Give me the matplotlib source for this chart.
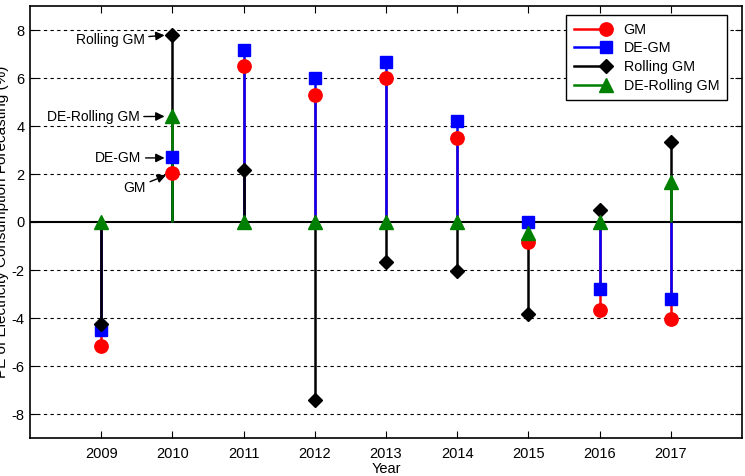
import matplotlib
matplotlib.use("Agg")
import matplotlib.pyplot as plt
from matplotlib.lines import Line2D
from matplotlib.legend_handler import HandlerBase

plt.rcParams['font.family'] = ['Liberation Sans', 'DejaVu Sans']
plt.rcParams['axes.unicode_minus'] = False

years = [2009, 2010, 2011, 2012, 2013, 2014, 2015, 2016, 2017]
gm = [-5.17, 2.05, 6.5, 5.3, 6.0, 3.5, -0.85, -3.65, -4.05]
de_gm = [-4.5, 2.7, 7.15, 6.0, 6.65, 4.2, 0.0, -2.8, -3.2]
rolling_gm = [-4.25, 7.8, 2.15, -7.4, -1.65, -2.05, -3.85, 0.5, 3.35]
de_rolling_gm = [0.0, 4.4, 0.0, 0.0, 0.0, 0.0, -0.45, 0.0, 1.65]

series = [
    ("GM", gm, "#ff0000", "o", 9.6),
    ("DE-GM", de_gm, "#0000ff", "s", 8),
    ("Rolling GM", rolling_gm, "#000000", "D", 6.9),
    ("DE-Rolling GM", de_rolling_gm, "#008000", "^", 9.7),
]


class EndMarkerHandler(HandlerBase):
    def create_artists(self, legend, orig_handle, xdescent, ydescent,
                       width, height, fontsize, trans):
        x0 = -xdescent
        x1 = width - xdescent
        y = height / 2 - ydescent
        line = Line2D([x0, x1], [y, y], color=orig_handle.get_color(),
                      lw=orig_handle.get_linewidth())
        mk = Line2D([x1], [y], ls='none', marker=orig_handle.get_marker(),
                    markersize=orig_handle.get_markersize(),
                    markerfacecolor=orig_handle.get_markerfacecolor(),
                    markeredgecolor=orig_handle.get_markeredgecolor())
        line.set_transform(trans)
        mk.set_transform(trans)
        return [line, mk]


fig = plt.figure(figsize=(7.45, 4.76), dpi=100)
ax = fig.add_axes([30 / 745, 1 - 438 / 476, 712 / 745, 432 / 476])

ax.set_xlim(2008, 2018)
ax.set_ylim(-9, 9)
ax.set_yticks(range(-8, 9, 2))
ax.set_xticks(years)

for yv in range(-8, 9, 2):
    if yv != 0:
        ax.axhline(yv, color='k', lw=0.8, ls=(0, (3, 3)), zorder=1)
ax.axhline(0, color='k', lw=1.5, zorder=2)

handles = []
for i, (name, vals, col, mk, ms) in enumerate(series):
    ax.vlines(years, 0, vals, colors=col, lw=1.8, zorder=3 + i)
    ax.plot(years, vals, ls='none', marker=mk, ms=ms, color=col,
            mec=col, zorder=10 + i)
    handles.append(Line2D([], [], color=col, lw=1.8, marker=mk, ms=ms,
                          mfc=col, mec=col, label=name))

leg = ax.legend(handles=handles, loc='upper right',
                bbox_to_anchor=((727 - 30) / 712, (438 - 15) / 432),
                borderaxespad=0, fontsize=10.3,
                handler_map={Line2D: EndMarkerHandler()},
                handlelength=2.25, handletextpad=1.25, labelspacing=0.32,
                borderpad=0.55, fancybox=False, framealpha=1,
                edgecolor='k')
leg.get_frame().set_linewidth(1.0)
leg.set_zorder(20)

arrow = dict(arrowstyle='-|>', color='k', lw=1.0, mutation_scale=13,
             shrinkA=1, shrinkB=0)
fs = 10
ax.annotate("Rolling GM", xy=(2009.89, 7.78), xytext=(2009.61, 7.6),
            ha='right', va='center', fontsize=fs, arrowprops=arrow, zorder=15)
ax.annotate("DE-Rolling GM", xy=(2009.89, 4.4), xytext=(2009.54, 4.38),
            ha='right', va='center', fontsize=fs, arrowprops=arrow, zorder=15)
ax.annotate("DE-GM", xy=(2009.89, 2.67), xytext=(2009.565, 2.67),
            ha='right', va='center', fontsize=fs, arrowprops=arrow, zorder=15)
ax.annotate("GM", xy=(2009.91, 1.95), xytext=(2009.63, 1.42),
            ha='right', va='center', fontsize=fs, arrowprops=arrow, zorder=15)

ax.tick_params(direction='in', length=5, width=0.8, top=True, right=True,
               labelsize=10.5)
ax.tick_params(axis='x', pad=6.5)
ax.tick_params(axis='y', pad=4)
for s in ax.spines.values():
    s.set_linewidth(1.2)

ax.set_xlabel("Year", fontsize=10.5, labelpad=1)
ax.set_ylabel("PE of Electricity Consumption Forecasting (%)", fontsize=11)
ax.yaxis.set_label_coords((9 - 30) / 712, 0.5)

fig.savefig("out.png", dpi=100)
